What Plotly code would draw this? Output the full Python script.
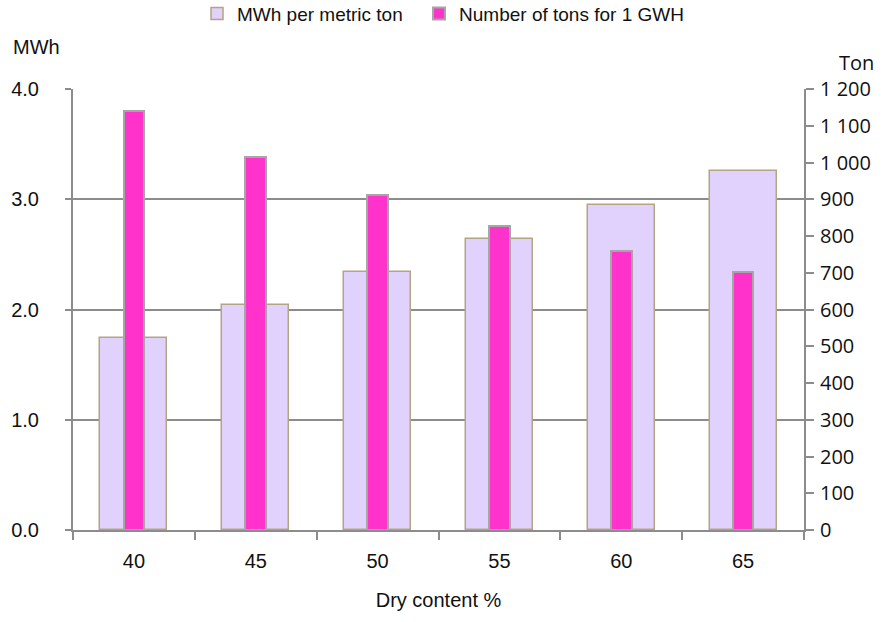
import plotly.graph_objects as go

# Dry content categories and the two series
dry_content = ["40", "45", "50", "55", "60", "65"]
mwh_per_ton = [1.74, 2.04, 2.34, 2.64, 2.95, 3.26]
tons_per_gwh = [1141, 1014, 912, 828, 760, 701]

left_ticks = [0, 1, 2, 3, 4]
right_ticks = list(range(0, 1201, 100))

W, H = 891, 622
ML, MR, MT, MB = 73, 87, 89, 92

fig = go.Figure()

fig.add_trace(go.Bar(
    x=dry_content, y=mwh_per_ton, name="MWh per metric ton",
    width=0.55, yaxis="y", legend="legend",
    marker=dict(color="#E0D2FC", line=dict(color="#B3A583", width=1.5)),
))
fig.add_trace(go.Bar(
    x=dry_content, y=tons_per_gwh, name="Number of tons for 1 GWH",
    width=0.17, yaxis="y2", legend="legend2",
    marker=dict(color="#FF33CC", line=dict(color="#A6A6A6", width=2)),
))

axis_col = "#8C8C8C"
left_font = dict(family="Liberation Sans", size=20, color="#111")
right_font = dict(family="Open Sans", size=20, color="#111")
legend_font = dict(family="Liberation Sans", size=19, color="#111")

legend_common = dict(
    orientation="h", xref="container", yref="container",
    y=0.978, xanchor="left", yanchor="middle",
    font=legend_font, itemwidth=30,
)

fig.update_layout(
    width=W, height=H,
    margin=dict(l=ML, r=MR, t=MT, b=MB),
    paper_bgcolor="white", plot_bgcolor="white",
    barmode="overlay", bargap=0,
    separators=". ",
    showlegend=True,
    legend=dict(x=0.2211, **legend_common),
    legend2=dict(x=0.4703, **legend_common),
    xaxis=dict(
        type="category", range=[-0.5, 5.5],
        showline=True, linecolor=axis_col, linewidth=2,
        ticks="outside", tickson="boundaries", ticklen=8, tickcolor=axis_col, tickwidth=1.5,
        tickfont=left_font, showgrid=False, ticklabelstandoff=12,
        title=dict(text="Dry content %", font=left_font, standoff=22),
    ),
    yaxis=dict(
        range=[0, 4], tickvals=left_ticks, tickformat=".1f",
        showline=True, linecolor=axis_col, linewidth=2,
        ticks="outside", ticklen=6, tickcolor=axis_col, tickwidth=1.5,
        showgrid=True, gridcolor=axis_col, gridwidth=2,
        zeroline=False, tickfont=left_font, ticklabelstandoff=22,
    ),
    yaxis2=dict(
        range=[0, 1200], tickvals=right_ticks, tickformat=",d",
        overlaying="y", side="right",
        showline=True, linecolor=axis_col, linewidth=2,
        ticks="outside", ticklen=8, tickcolor=axis_col, tickwidth=1.5,
        showgrid=False, zeroline=False, tickfont=right_font, ticklabelstandoff=2,
    ),
    annotations=[
        dict(text="MWh", xref="paper", yref="paper", x=-0.085, y=1.095,
             xanchor="left", yanchor="middle", showarrow=False, font=left_font),
        dict(text="Ton", xref="paper", yref="paper", x=1.045, y=1.06,
             xanchor="left", yanchor="middle", showarrow=False, font=right_font),
    ],
)

fig.write_html("out.html")
